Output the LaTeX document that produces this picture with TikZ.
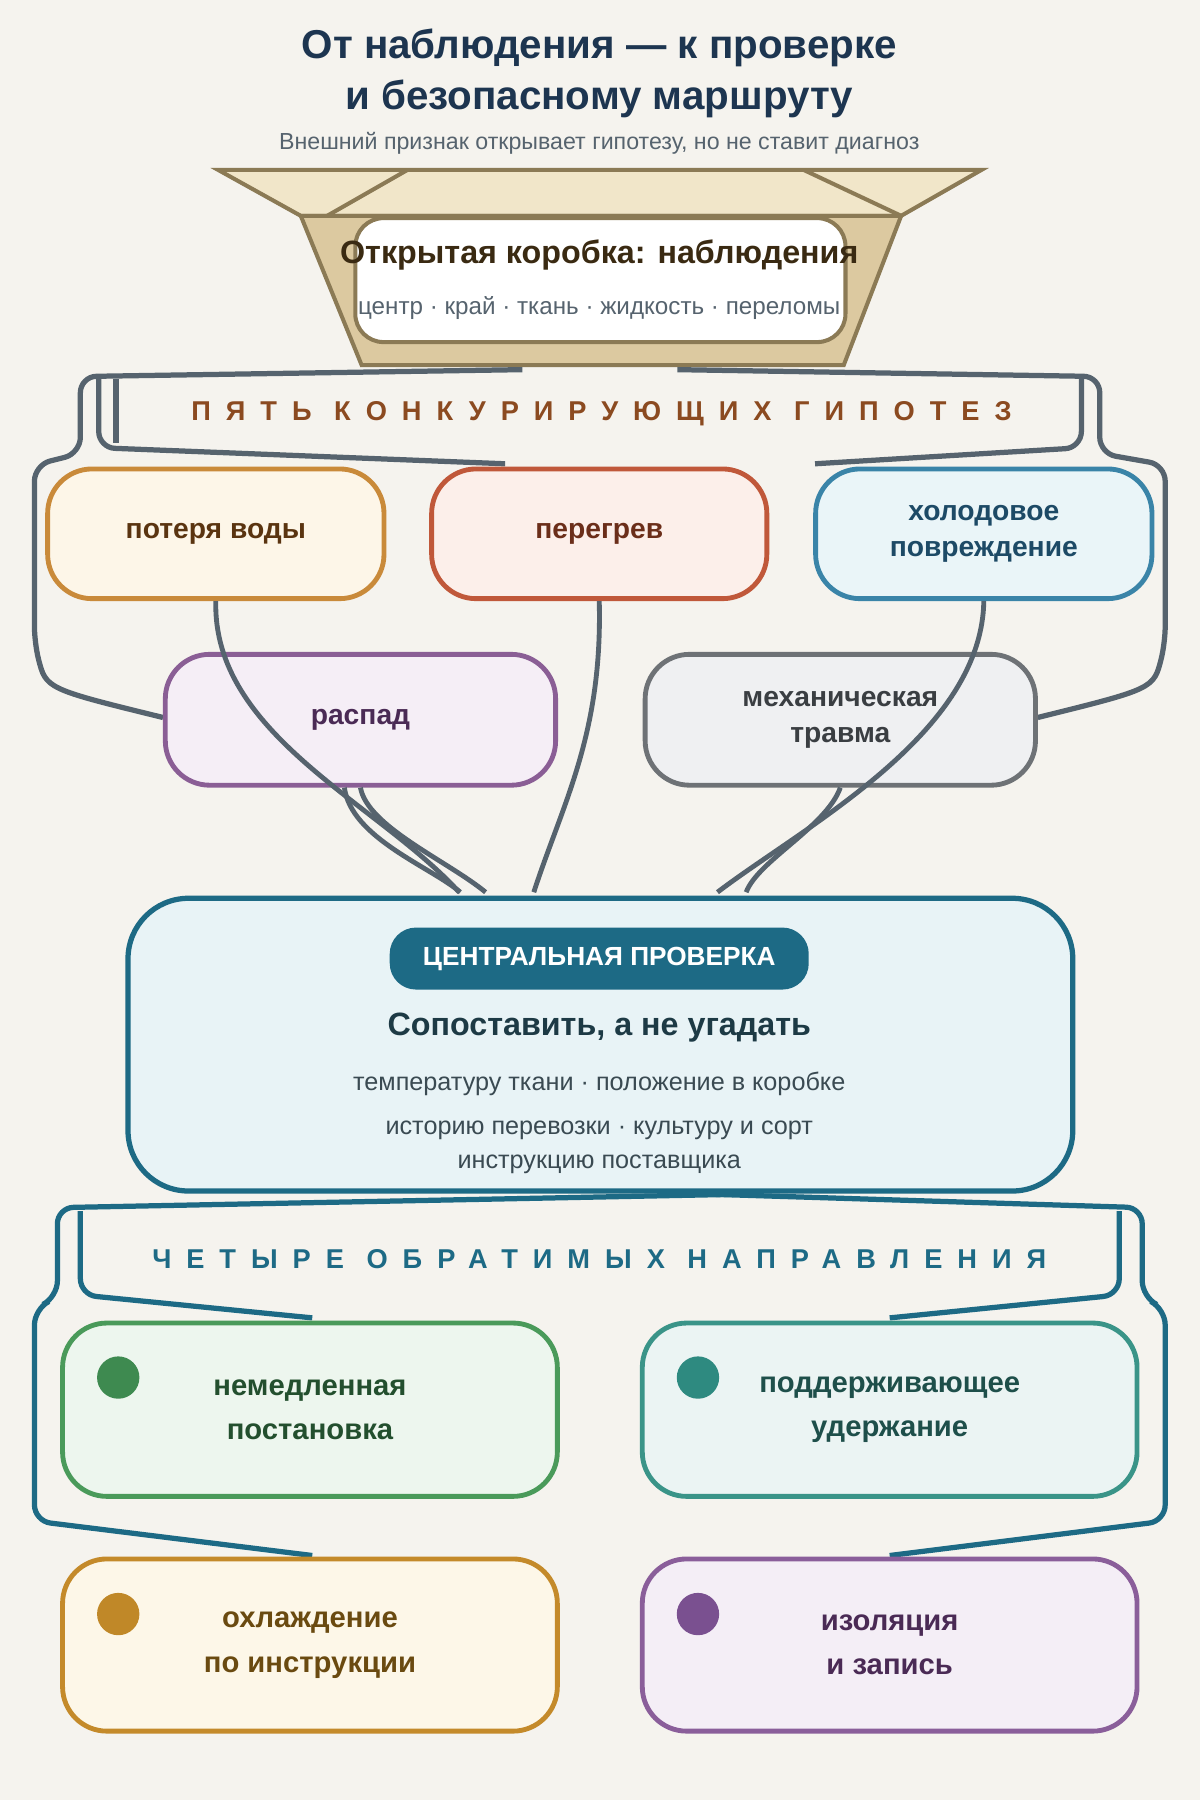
\documentclass[tikz,border=0pt]{standalone}
\usepackage{fontspec}
\setmainfont{Liberation Sans}
\usetikzlibrary{calc}
\definecolor{bg}{HTML}{F5F3EE}
\definecolor{navy}{HTML}{1D3550}
\definecolor{slate}{HTML}{56636E}
\definecolor{teal}{HTML}{1D6A85}
\definecolor{tan}{HTML}{8B7A55}
\definecolor{tanlight}{HTML}{F1E6C9}
\definecolor{tandark}{HTML}{DCC9A0}
\definecolor{brown}{HTML}{3A2A12}
\definecolor{rust}{HTML}{8B4A20}
\definecolor{ochre}{HTML}{C98A3A}\definecolor{ochrebg}{HTML}{FDF6E8}\definecolor{ochretx}{HTML}{5A3410}
\definecolor{brick}{HTML}{C0583A}\definecolor{brickbg}{HTML}{FCEFEA}\definecolor{bricktx}{HTML}{6B2E1A}
\definecolor{sky}{HTML}{3A84A8}\definecolor{skybg}{HTML}{EAF5F8}\definecolor{skytx}{HTML}{1D4A66}
\definecolor{plum}{HTML}{8A5E95}\definecolor{plumbg}{HTML}{F5EEF6}\definecolor{plumtx}{HTML}{4A2A55}
\definecolor{steel}{HTML}{6E7276}\definecolor{steelbg}{HTML}{EFF0F2}\definecolor{steeltx}{HTML}{3A3E42}
\definecolor{checkbg}{HTML}{E8F3F6}\definecolor{checktx}{HTML}{1D3A45}\definecolor{itemtx}{HTML}{3A4A52}
\definecolor{leaf}{HTML}{4A9A5A}\definecolor{leafbg}{HTML}{EDF6EE}\definecolor{leaftx}{HTML}{234F2E}\definecolor{leafdot}{HTML}{3E8A50}
\definecolor{sea}{HTML}{3A9488}\definecolor{seabg}{HTML}{EBF4F3}\definecolor{seatx}{HTML}{1E4F4A}\definecolor{seadot}{HTML}{2E8A80}
\definecolor{gold}{HTML}{C48A2A}\definecolor{goldbg}{HTML}{FDF7E8}\definecolor{goldtx}{HTML}{6A4A10}\definecolor{golddot}{HTML}{C08828}
\definecolor{lilac}{HTML}{8A5E9A}\definecolor{lilacbg}{HTML}{F4EEF6}\definecolor{lilactx}{HTML}{4A2A55}\definecolor{lilacdot}{HTML}{7A5090}
\tikzset{
  hyp/.style={draw=#1, line width=2.4pt, rounded corners=22, align=center,
    font=\fontsize{14}{18}\selectfont\bfseries},
  way/.style={draw=#1, line width=2.4pt, rounded corners=22, align=center,
    font=\fontsize{14.5}{22}\selectfont\bfseries},
  link/.style={draw=slate, line width=2.4pt},
  brace/.style={draw=#1, line width=2.6pt, rounded corners=8},
  dot/.style={circle, fill=#1, minimum size=21, inner sep=0},
}
\begin{document}
\begin{tikzpicture}[x=0.02cm, y=-0.02cm]
  \fill[bg] (0,0) rectangle (1045,1568);
  \useasboundingbox (0,0) rectangle (1045,1568);

  % title
  \node[navy, font=\fontsize{20}{25}\selectfont\bfseries, align=center] (title) at (522,64)
    {От наблюдения — к проверке\\и безопасному маршруту};
  \node[slate, font=\fontsize{11.5}{14}\selectfont] (sub) at (522,125)
    {Внешний признак открывает гипотезу, но не ставит диагноз};

  % funnel
  \draw[tan, line width=2pt, fill=tanlight] (190,148) -- (855,148) -- (785,188) -- (262,188) -- cycle;
  \draw[tan, line width=2pt, fill=tandark] (262,188) -- (785,188) -- (735,318) -- (315,318) -- cycle;
  \draw[tan, line width=2pt] (355,148) -- (285,188) (700,148) -- (785,188);
  \node[draw=tan, line width=2pt, fill=white, rounded corners=14, minimum width=427*0.02cm,
    minimum height=108*0.02cm] (box) at (523,244) {};
  \node[text=brown, font=\fontsize{16}{20}\selectfont\bfseries] (boxt) at (522,222)
    {Открытая коробка: наблюдения};
  \node[slate, font=\fontsize{12}{14}\selectfont] (boxs) at (522,268)
    {центр · край · ткань · жидкость · переломы};

  % upper bracket
  \draw[brace=slate] (455,322) -- (70,328) -- (70,395) -- (30,405) -- (30,560) .. controls (40,600) .. (142,625);
  \draw[brace=slate] (86,330) -- (86,390) -- (440,404);
  \draw[brace=slate] (101,330) -- (101,386);
  \draw[brace=slate] (590,322) -- (958,328) -- (958,395) -- (1015,405) -- (1015,560) .. controls (1005,600) .. (904,625);
  \draw[brace=slate] (942,330) -- (942,390) -- (710,404);
  \node[text=rust, font=\fontsize{13.5}{16}\selectfont\bfseries\addfontfeature{LetterSpace=55}] (five) at (524,360)
    {ПЯТЬ КОНКУРИРУЮЩИХ ГИПОТЕЗ};

  % hypotheses
  \node[hyp=ochre, fill=ochrebg, text=ochretx, minimum width=293*0.02cm, minimum height=113*0.02cm] (water) at (188,465) {потеря воды};
  \node[hyp=brick, fill=brickbg, text=bricktx, minimum width=292*0.02cm, minimum height=113*0.02cm] (heat) at (522,465) {перегрев};
  \node[hyp=sky, fill=skybg, text=skytx, minimum width=293*0.02cm, minimum height=113*0.02cm] (cold) at (857,465) {холодовое\\повреждение};
  \node[hyp=plum, fill=plumbg, text=plumtx, minimum width=340*0.02cm, minimum height=114*0.02cm] (decay) at (314,627) {распад};
  \node[hyp=steel, fill=steelbg, text=steeltx, minimum width=340*0.02cm, minimum height=114*0.02cm] (mech) at (732,627) {механическая\\травма};

  % central check
  \node[draw=teal, line width=2.6pt, fill=checkbg, rounded corners=30,
    minimum width=823*0.02cm, minimum height=255*0.02cm] (check) at (523,910) {};
  \node[fill=teal, text=white, rounded corners=13, font=\fontsize{13}{15}\selectfont\bfseries,
    minimum width=365*0.02cm, minimum height=54*0.02cm] (pill) at (522,835) {ЦЕНТРАЛЬНАЯ ПРОВЕРКА};
  \node[text=checktx, font=\fontsize{16}{20}\selectfont\bfseries] (claim) at (522,895)
    {Сопоставить, а не угадать};
  \node[text=itemtx, font=\fontsize{12.5}{19}\selectfont, align=center] (items) at (522,978)
    {температуру ткани · положение в коробке\\[3pt]историю перевозки · культуру и сорт\\[-2pt]инструкцию поставщика};

  % connectors
  \draw[link] (water.south) .. controls (185,640) and (330,700) .. ($(check.north)+(-123,-3)$);
  \draw[link] (decay.south) .. controls (320,720) and (390,750) .. ($(check.north)+(-100,-3)$);
  \draw[link] ($(decay.south)+(-14,0)$) .. controls (306,730) and (375,755) .. ($(check.north)+(-122,-3)$);
  \draw[link] (heat.south) .. controls (525,640) and (490,700) .. ($(check.north)+(-58,-3)$);
  \draw[link] (cold.south) .. controls (855,640) and (700,720) .. ($(check.north)+(102,-3)$);
  \draw[link] (mech.south) .. controls (720,720) and (660,750) .. ($(check.north)+(127,-3)$);

  % lower bracket
  \draw[brace=teal] (660,1040) -- (50,1052) -- (50,1130) -- (30,1140) -- (30,1325) -- (272,1355);
  \draw[brace=teal] (70,1055) -- (70,1128) -- (272,1148);
  \draw[brace=teal] (610,1040) -- (995,1052) -- (995,1130) -- (1015,1140) -- (1015,1325) -- (775,1355);
  \draw[brace=teal] (975,1055) -- (975,1128) -- (775,1148);
  \node[text=teal, font=\fontsize{13.5}{16}\selectfont\bfseries\addfontfeature{LetterSpace=55}] (four) at (522,1097)
    {ЧЕТЫРЕ ОБРАТИМЫХ НАПРАВЛЕНИЯ};

  % directions
  \node[way=leaf, fill=leafbg, text=leaftx, minimum width=431*0.02cm, minimum height=151*0.02cm] (plant) at (270,1228) {немедленная\\постановка};
  \node[way=sea, fill=seabg, text=seatx, minimum width=431*0.02cm, minimum height=151*0.02cm] (hold) at (775,1228) {поддерживающее\\удержание};
  \node[way=gold, fill=goldbg, text=goldtx, minimum width=431*0.02cm, minimum height=150*0.02cm] (cool) at (270,1433) {охлаждение\\по инструкции};
  \node[way=lilac, fill=lilacbg, text=lilactx, minimum width=431*0.02cm, minimum height=150*0.02cm] (iso) at (775,1433) {изоляция\\и запись};
  \node[dot=leafdot] (d1) at (103,1200) {};
  \node[dot=seadot] (d2) at (608,1200) {};
  \node[dot=golddot] (d3) at (103,1406) {};
  \node[dot=lilacdot] (d4) at (608,1406) {};
\end{tikzpicture}
\end{document}
